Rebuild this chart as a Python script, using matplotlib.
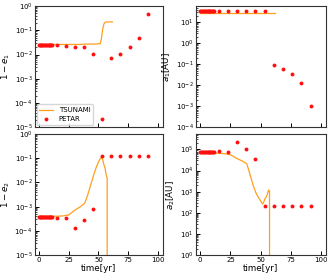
import numpy as np
import matplotlib
matplotlib.use("Agg")
import matplotlib.pyplot as plt
from matplotlib.ticker import LogLocator, NullFormatter

# ---- data ----
# TSUNAMI (line)
t_ts = [0, 5, 10, 15, 20, 25, 30, 35, 38.5, 41, 44, 46, 48, 50, 51.5, 52.5,
        53.5, 54.5, 55.5, 56.5, 57.3, 57.5, 59, 61.6]
e1_ts = [0.026, 0.026, 0.026, 0.026, 0.026, 0.026, 0.026, 0.026, 0.027, 0.027,
         0.027, 0.027, 0.027, 0.028, 0.028, 0.045, 0.11, 0.18, 0.21, 0.22,
         0.22, 0.22, 0.22, 0.22]
a1_ts = [29, 29, 29, 29, 29, 29, 29, 29, 29, 29, 29, 29, 29, 29, 29, 29,
         29, 29, 29, 29, 29, 29, 29, 29]
e2_ts = [4.0e-4, 4.0e-4, 4.0e-4, 4.0e-4, 4.1e-4, 4.5e-4, 7.0e-4, 1.0e-3,
         1.38e-3, 3.0e-3, 9.5e-3, 2.0e-2, 4.0e-2, 7.0e-2, 0.095, 0.11,
         0.09, 0.055, 0.04, 0.02, 0.015, -1, -1, -1]
a2_ts = [7.0e4, 7.0e4, 6.8e4, 6.6e4, 6.3e4, 5.6e4, 3.8e4, 2.8e4, 2.1e4,
         7.0e3, 1.8e3, 9.0e2, 5.5e2, 3.6e2, 2.6e2, 3.2e2, 4.6e2, 5.5e2,
         7.5e2, 1.2e3, 1.1e3, -1, -1, -1]

# PETAR (points)
t_pt = [0, 0.76, 1.52, 2.28, 3.04, 3.8, 4.56, 5.32, 6.08, 6.84, 7.6, 8.36,
        9.12, 9.88, 10.64, 11.4, 15.2, 22.8, 30.4, 38.0, 45.6, 53.2, 60.8,
        68.4, 76.0, 83.6, 91.2]
e1_pt = [0.024] * 16 + [0.024, 0.022, 0.021, 0.0195, 0.0107, 2.1e-5, 0.007,
                        0.011, 0.02, 0.049, 0.46]
a1_pt = [33] * 16 + [33, 33, 33, 33, 33, 33, 0.09, 0.062, 0.033, 0.0125, 0.001]
e2_pt = [3.8e-4] * 16 + [3.3e-4, 3.5e-4, 1.3e-4, 2.8e-4, 7.8e-4, 0.125,
                         0.125, 0.125, 0.125, 0.125, 0.125]
a2_pt = [7.4e4] * 16 + [8.3e4, 8.0e4, 2.2e5, 1.07e5, 3.7e4, 200, 200, 200,
                        200, 200, 200]

xticks = [0, 25, 50, 75, 100]

# ---- figure ----
plt.rcParams['font.size'] = 5
fig = plt.figure(figsize=(3.32, 2.78), dpi=100)

W, H = 332, 278
def box(l, r, t, b):
    return [l / W, 1 - b / H, (r - l) / W, (b - t) / H]

axes = [
    fig.add_axes(box(34.5, 163, 6, 127.3)),
    fig.add_axes(box(196, 326, 6, 127.3)),
    fig.add_axes(box(34.5, 163, 134, 255)),
    fig.add_axes(box(196, 326, 134, 255)),
]

line_c = '#ff9f1c'
pt_c = '#ff1010'

panels = [
    (e1_ts, e1_pt, r'$1-e_1$', (1e-5, 1)),
    (a1_ts, a1_pt, r'$a_1$[AU]', (1e-4, 60)),
    (e2_ts, e2_pt, r'$1-e_2$', (1e-5, 1)),
    (a2_ts, a2_pt, r'$a_2$[AU]', (1, 5.4e5)),
]

for i, (ax, (yts, ypt, lab, yl)) in enumerate(zip(axes, panels)):
    ax.set_yscale('log')
    ax.plot(t_ts, yts, color=line_c, lw=0.9, label='TSUNAMI')
    ax.plot(t_pt, ypt, 'o', color=pt_c, ms=2.8, mew=0, label='PETAR',
            zorder=3)
    ax.set_xlim(-3.5, 104)
    ax.set_ylim(*yl)
    ax.set_xticks(xticks)
    ax.yaxis.set_major_locator(LogLocator(base=10, numticks=20))
    ax.yaxis.set_minor_locator(LogLocator(base=10, subs=np.arange(2, 10),
                                          numticks=100))
    ax.yaxis.set_minor_formatter(NullFormatter())
    ax.set_ylabel(lab, fontsize=6.3, labelpad=2)
    ax.tick_params(direction='in', which='major', length=3, width=0.7,
                   labelsize=5, pad=1.5)
    ax.tick_params(direction='in', which='minor', length=1.6, width=0.5)
    for s in ax.spines.values():
        s.set_linewidth(0.8)
        s.set_color('#333333')
    if i < 2:
        ax.set_xticklabels([])
    else:
        ax.set_xlabel('time[yr]', fontsize=6.3, labelpad=1)

axes[0].legend(loc='lower left', fontsize=5, borderaxespad=0.3,
               handlelength=2.0, borderpad=0.4, labelspacing=0.5)

fig.savefig('out.png', dpi=100)
